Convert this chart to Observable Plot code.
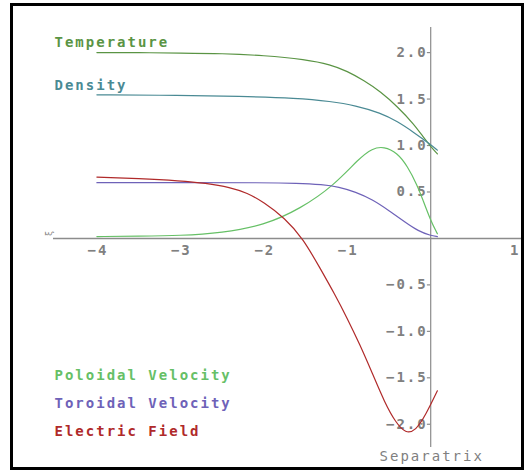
<!DOCTYPE html>
<html>
<head>
<meta charset="utf-8">
<script src="https://cdn.jsdelivr.net/npm/d3@7"></script>
<script src="https://cdn.jsdelivr.net/npm/@observablehq/plot@0.6"></script>
<style>
  html, body { margin: 0; padding: 0; background: #fff; }
  #wrap { position: relative; width: 526px; height: 470px; }
  #border { position: absolute; left: 10px; top: 3px; width: 508px; height: 461px; border: 3px solid #000; pointer-events: none; }
  #wrap svg text { letter-spacing: 2px; }
</style>
</head>
<body>
<div id="wrap"><div id="border"></div></div>
<script>
// ---- data ----
const tempX = [-4, -3.5, -3, -2.5, -2, -1.5, -1.2, -1, -0.8, -0.6, -0.4, -0.2, -0.08, 0, 0.08];
const tempY = [2.0, 2.0, 1.995, 1.99, 1.97, 1.925, 1.87, 1.8, 1.7, 1.58, 1.42, 1.23, 1.08, 0.99, 0.91];

const densX = [-4, -3, -2.3, -1.6, -1.2, -0.9, -0.6, -0.4, -0.2, 0, 0.08];
const densY = [1.545, 1.54, 1.53, 1.51, 1.475, 1.43, 1.35, 1.26, 1.14, 1.01, 0.95];

const polX = [-4, -3.5, -3, -2.5, -2, -1.56, -1.16, -0.86, -0.7, -0.56, -0.4, -0.28, -0.16, -0.1, 0, 0.08];
const polY = [0.02, 0.025, 0.03, 0.06, 0.14, 0.32, 0.57, 0.86, 0.97, 0.99, 0.92, 0.78, 0.57, 0.43, 0.19, 0.05];

const torX = [-4, -3, -2, -1.6, -1.3, -1.1, -0.9, -0.7, -0.5, -0.3, -0.15, 0, 0.08];
const torY = [0.6, 0.6, 0.6, 0.595, 0.58, 0.555, 0.5, 0.42, 0.3, 0.17, 0.08, 0.03, 0.02];

const efX = [-4, -3.5, -3, -2.7, -2.4, -2.2, -2, -1.75, -1.53, -1.32, -1.15, -1, -0.85, -0.7, -0.55, -0.42, -0.3, -0.18, -0.06, 0.08];
const efY = [0.66, 0.645, 0.62, 0.595, 0.55, 0.49, 0.39, 0.22, 0.0, -0.33, -0.6, -0.86, -1.14, -1.45, -1.77, -1.98, -2.1, -2.07, -1.9, -1.64];

const seriesNames = ["Temperature", "Density", "Poloidal Velocity", "Toroidal Velocity", "Electric Field"];
const seriesColors = ["#5a9444", "#4a8a94", "#66c066", "#6e62b8", "#b02a2a"];

const xTicks = [-4, -3, -2, -1, 1];
const xTickLabels = ["−4", "−3", "−2", "−1", "1"];
const yTicks = [2, 1.5, 1, 0.5, -0.5, -1, -1.5, -2];
const yTickLabels = ["2.0", "1.5", "1.0", "0.5", "−0.5", "−1.0", "−1.5", "−2.0"];

// ---- layout ----
const legendX = -4.508;
const legendY = [2.11, 1.647, -1.475, -1.776, -2.078];
const xDomain = [-4.52, 1.1];
const yDomain = [-2.25, 2.27];

const zip = (xs, ys) => xs.map((x, i) => ({x, y: ys[i]}));
const series = [zip(tempX, tempY), zip(densX, densY), zip(polX, polY), zip(torX, torY), zip(efX, efY)];

const font = "DejaVu Sans Mono, monospace";
const axisGrey = "#8c8c8c";
const textStyle = {fontFamily: font, fontWeight: "bold", fontSize: 14};

const legend = seriesNames.map((name, i) => ({name, x: legendX, y: legendY[i], color: seriesColors[i]}));

const chart = Plot.plot({
  width: 526,
  height: 470,
  marginLeft: 53,
  marginRight: 4,
  marginTop: 27,
  marginBottom: 23,
  x: {domain: xDomain, axis: null},
  y: {domain: yDomain, axis: null},
  style: {background: "transparent", overflow: "visible"},
  marks: [
    // axes
    Plot.ruleY([0], {stroke: axisGrey, strokeWidth: 1.5}),
    Plot.ruleX([0], {stroke: axisGrey, strokeWidth: 1.2}),
    Plot.ruleY(yTicks, {y: d => d, x1: -0.04, x2: 0, stroke: axisGrey, strokeWidth: 1.2}),
    Plot.text(yTicks, {x: 0, y: d => d, text: (d, i) => yTickLabels[i], textAnchor: "end", dx: -3, fill: "#808080", ...textStyle}),
    Plot.text(xTicks, {x: d => d, y: 0, text: (d, i) => xTickLabels[i], textAnchor: "middle", dx: 1, dy: 12, fill: "#808080", ...textStyle}),
    Plot.text(["ξ"], {x: xDomain[0], y: 0, dx: -4, dy: -6, rotate: -90, fill: "#888", fontSize: 9, fontFamily: font}),
    Plot.text(["Separatrix"], {x: 0, y: yDomain[0], dy: 9, textAnchor: "middle", dx: 1, fill: "#808080", fontFamily: font, fontSize: 14}),
    // curves
    ...series.map((data, i) => Plot.line(data, {x: "x", y: "y", stroke: seriesColors[i], strokeWidth: 1.2, curve: "basis"})),
    // labels
    Plot.text(legend, {x: "x", y: "y", text: "name", fill: "color", textAnchor: "start", ...textStyle})
  ]
});
chart.style.position = "absolute";
chart.style.left = "0px";
chart.style.top = "0px";
document.getElementById("wrap").prepend(chart);
</script>
</body>
</html>
